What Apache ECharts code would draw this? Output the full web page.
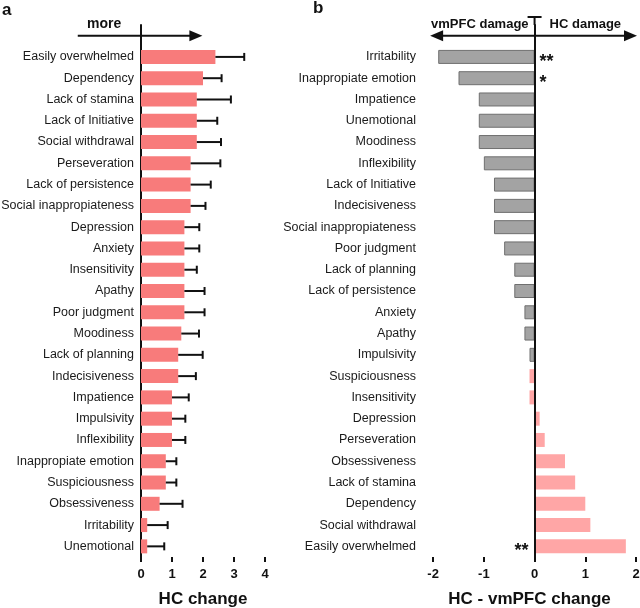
<!DOCTYPE html>
<html><head><meta charset="utf-8">
<script src="https://cdn.jsdelivr.net/npm/echarts@6/dist/echarts.min.js"></script>
<style>html,body{margin:0;padding:0;background:#fff}#c{width:640px;height:608px}</style>
</head><body><div id="c"></div>
<script>
// ---- Panel a data (HC change) ----
const aCategories = ['', 'Easily overwhelmed', 'Dependency', 'Lack of stamina', 'Lack of Initiative', 'Social withdrawal',
  'Perseveration', 'Lack of persistence', 'Social inappropiateness', 'Depression', 'Anxiety', 'Insensitivity',
  'Apathy', 'Poor judgment', 'Moodiness', 'Lack of planning', 'Indecisiveness', 'Impatience', 'Impulsivity',
  'Inflexibility', 'Inappropiate emotion', 'Suspiciousness', 'Obsessiveness', 'Irritability', 'Unemotional'];
const aValues = [null, 2.4, 2.0, 1.8, 1.8, 1.8, 1.6, 1.6, 1.6, 1.4, 1.4, 1.4, 1.4, 1.4, 1.3, 1.2, 1.2, 1.0, 1.0, 1.0, 0.8, 0.8, 0.6, 0.2, 0.2];
const aErrorTop = [null, 3.33, 2.6, 2.9, 2.46, 2.58, 2.56, 2.25, 2.08, 1.88, 1.88, 1.8, 2.05, 2.05, 1.87, 1.99, 1.77, 1.54, 1.43, 1.43, 1.14, 1.14, 1.34, 0.86, 0.75];
const aTicks = [0, 1, 2, 3, 4];

// ---- Panel b data (HC - vmPFC change) ----
const bCategories = ['', 'Irritability', 'Inappropiate emotion', 'Impatience', 'Unemotional', 'Moodiness', 'Inflexibility',
  'Lack of Initiative', 'Indecisiveness', 'Social inappropiateness', 'Poor judgment', 'Lack of planning',
  'Lack of persistence', 'Anxiety', 'Apathy', 'Impulsivity', 'Suspiciousness', 'Insensitivity', 'Depression',
  'Perseveration', 'Obsessiveness', 'Lack of stamina', 'Dependency', 'Social withdrawal', 'Easily overwhelmed'];
const bValues = [null, -1.9, -1.5, -1.1, -1.1, -1.1, -1.0, -0.8, -0.8, -0.8, -0.6, -0.4, -0.4, -0.2, -0.2, -0.1, -0.1, -0.1, 0.1, 0.2, 0.6, 0.8, 1.0, 1.1, 1.8];
const bSide = ['', 'v', 'v', 'v', 'v', 'v', 'v', 'v', 'v', 'v', 'v', 'v', 'v', 'v', 'v', 'v', 'h', 'h', 'h', 'h', 'h', 'h', 'h', 'h', 'h'];
const bStars = ['', '**', '*', '', '', '', '', '', '', '', '', '', '', '', '', '', '', '', '', '', '', '', '', '', '**'];
const bTicks = [-2, -1, 0, 1, 2];

const FONT = '"Liberation Sans", Arial, sans-serif';
const INK = '#111';
const colA = '#F87B7B', colBh = '#FFA6A6', colBv = '#A3A3A3';

const chart = echarts.init(document.getElementById('c'), null, {renderer: 'canvas'});

function catAxis(gridIndex, cats) {
  return {
    type: 'category', gridIndex, data: cats, inverse: true,
    axisLine: {lineStyle: {color: INK, width: 2}},
    axisTick: {alignWithLabel: true, length: 5, lineStyle: {color: INK, width: 1.5}, interval: 0},
    axisLabel: {color: '#1a1a1a', fontSize: 12.5, fontFamily: FONT, margin: 7, interval: 0},
    splitLine: {show: false}
  };
}
function valAxis(gridIndex, min, max, ticks, name) {
  return {
    type: 'value', gridIndex, min, max,
    name, nameLocation: 'middle', nameGap: 34,
    nameTextStyle: {color: INK, fontSize: 17, fontWeight: 'bold', fontFamily: FONT},
    axisLine: {lineStyle: {color: INK, width: 2}},
    axisTick: {show: true, length: 5, lineStyle: {color: INK, width: 2}, customValues: ticks},
    axisLabel: {color: INK, fontSize: 13, fontWeight: 'bold', fontFamily: FONT, margin: 11, customValues: ticks},
    splitLine: {show: false}
  };
}

const option = {
  animation: false,
  backgroundColor: '#fff',
  textStyle: {fontFamily: FONT},
  grid: [
    {left: 141, top: 25, width: 124, height: 532, containLabel: false, outerBoundsMode: 'none'},
    {left: 423, top: 25, width: 213, height: 532, containLabel: false, outerBoundsMode: 'none'}
  ],
  xAxis: [valAxis(0, 0, 4, aTicks, 'HC change'), valAxis(1, -2.2, 2, bTicks, 'HC - vmPFC change')],
  yAxis: [catAxis(0, aCategories), catAxis(1, bCategories)],
  series: [
    {
      type: 'bar', xAxisIndex: 0, yAxisIndex: 0, barWidth: 14,
      data: aValues, itemStyle: {color: colA}
    },
    {
      type: 'custom', xAxisIndex: 0, yAxisIndex: 0,
      data: aValues.map((v, i) => v == null ? [null, null, i] : [v, aErrorTop[i], i]),
      encode: {x: [0, 1], y: 2},
      renderItem(params, api) {
        const v = api.value(0), e = api.value(1), c = api.value(2);
        if (v == null || isNaN(v)) return;
        const p0 = api.coord([v, c]), p1 = api.coord([e, c]);
        return {type: 'group', children: [
          {type: 'line', shape: {x1: p0[0], y1: p0[1], x2: p1[0], y2: p1[1]}, style: {stroke: INK, lineWidth: 2}},
          {type: 'line', shape: {x1: p1[0], y1: p1[1] - 4, x2: p1[0], y2: p1[1] + 4}, style: {stroke: INK, lineWidth: 2}}
        ]};
      },
      z: 3
    },
    {
      type: 'bar', xAxisIndex: 1, yAxisIndex: 1, barWidth: 14,
      data: bValues.map((v, i) => v == null ? null : {
        value: v,
        itemStyle: bSide[i] === 'v'
          ? {color: colBv, borderColor: '#6f6f6f', borderWidth: 1}
          : {color: colBh}
      }),
      markLine: {
        silent: true, symbol: 'none', label: {show: false},
        lineStyle: {color: INK, width: 2, type: 'solid'},
        data: [{xAxis: 0}]
      },
      z: 2
    },
    {
      type: 'custom', xAxisIndex: 1, yAxisIndex: 1,
      data: bValues.map((v, i) => [v == null ? 0 : v, i, bStars[i]]),
      encode: {x: 0, y: 1},
      renderItem(params, api) {
        const i = params.dataIndex;
        const s = bStars[i];
        if (!s) return;
        const v = bValues[i];
        const p = api.coord([0, i]);
        return {
          type: 'text',
          style: {
            text: s, x: v < 0 ? p[0] + 5 : p[0] - 6, y: p[1] + 5,
            align: v < 0 ? 'left' : 'right', verticalAlign: 'middle',
            font: 'bold 18px ' + FONT, fill: INK
          }
        };
      },
      z: 4
    }
  ]
};
chart.setOption(option);

// ---- annotations (arrows, labels) positioned through the axes ----
function px(grid, x, catIdx) {
  return chart.convertToPixel({xAxisIndex: grid, yAxisIndex: grid}, [x, catIdx]);
}
function arrowHead(tip, dir) {
  const L = 13, H = 5.5;
  return {type: 'polygon', shape: {points: [[tip[0], tip[1]], [tip[0] - dir * L, tip[1] - H], [tip[0] - dir * L, tip[1] + H]]},
    style: {fill: INK}, z: 10};
}
const aL = px(0, -2.04, 0), aR = px(0, 1.98, 0);
const bL = px(1, -2.06, 0), bR = px(1, 2.02, 0);
const bZeroTop = px(1, 0, 0);
const gridTop = 25;
const graphics = [
  {type: 'text', left: 2, top: 2, style: {text: 'a', font: 'bold 17px ' + FONT, fill: INK}},
  {type: 'text', left: 313, top: 0, style: {text: 'b', font: 'bold 17px ' + FONT, fill: INK}},
  // panel a arrow
  {type: 'line', shape: {x1: aL[0], y1: aL[1], x2: aR[0] - 8, y2: aR[1]}, style: {stroke: INK, lineWidth: 2}, z: 10},
  arrowHead(aR, 1),
  {type: 'text', x: (aL[0] + aR[0]) / 2 - 36, y: aL[1] - 11, style: {text: 'more', font: 'bold 14px ' + FONT, fill: INK, align: 'center', verticalAlign: 'middle'}, z: 10},
  // panel b double arrow
  {type: 'line', shape: {x1: bL[0] + 8, y1: bL[1], x2: bR[0] - 8, y2: bR[1]}, style: {stroke: INK, lineWidth: 2}, z: 10},
  arrowHead(bL, -1), arrowHead(bR, 1),
  {type: 'line', shape: {x1: bZeroTop[0], y1: gridTop, x2: bZeroTop[0], y2: 17}, style: {stroke: INK, lineWidth: 2}, z: 10},
  {type: 'line', shape: {x1: bZeroTop[0] - 7, y1: 17, x2: bZeroTop[0] + 7, y2: 17}, style: {stroke: INK, lineWidth: 2}, z: 10},
  {type: 'text', x: bZeroTop[0] - 6, y: bL[1] - 11, style: {text: 'vmPFC damage', font: 'bold 13px ' + FONT, fill: INK, align: 'right', verticalAlign: 'middle'}, z: 10},
  {type: 'text', x: bZeroTop[0] + 15, y: bL[1] - 11, style: {text: 'HC damage', font: 'bold 13px ' + FONT, fill: INK, align: 'left', verticalAlign: 'middle'}, z: 10}
];
chart.setOption({graphic: graphics});
</script>
</body></html>
